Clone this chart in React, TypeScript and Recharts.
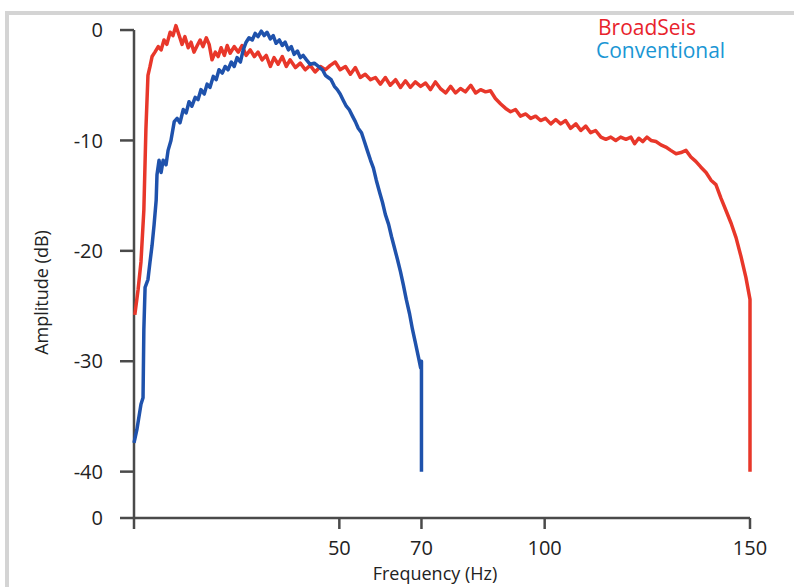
import { LineChart, Line, XAxis, YAxis, Legend, ReferenceLine, Label } from 'recharts';

// frequency (Hz) / amplitude (dB) pairs
const BROADSEIS_FREQ = [
  0.2, 1.0, 1.7, 2.4, 2.9, 3.4, 3.9, 4.4, 5.1, 5.9, 6.6, 7.3, 8.0, 8.8, 9.5, 10.2, 11.0, 11.7, 12.4, 13.2,
  13.9, 14.6, 15.4, 16.1, 16.8, 17.6, 18.3, 19.0, 19.8, 20.5, 21.2, 22.0, 22.7, 23.4, 24.4, 25.4, 26.3, 27.3, 28.3, 29.3,
  30.2, 31.2, 32.2, 33.2, 34.1, 35.1, 36.1, 37.1, 38.0, 39.3, 40.5, 41.7, 42.9, 44.1, 45.4, 46.6, 47.8, 49.0, 50.2, 51.5,
  52.7, 53.9, 55.1, 56.3, 57.6, 58.8, 60.0, 61.2, 62.4, 63.7, 64.9, 66.1, 67.3, 68.5, 69.8, 71.0, 72.2, 73.4, 74.6, 75.9,
  77.1, 78.3, 79.5, 80.7, 82.0, 83.2, 84.4, 85.6, 86.8, 88.0, 89.3, 90.5, 91.7, 92.9, 94.1, 95.4, 96.6, 97.8, 99.0, 100.2,
  101.5, 102.7, 103.9, 105.1, 106.3, 107.6, 108.8, 110.0, 111.2, 112.4, 113.7, 114.9, 116.1, 117.3, 118.5, 119.8, 121.0, 121.9, 122.9, 123.9,
  124.9, 125.9, 127.1, 128.3, 129.5, 130.7, 132.0, 133.2, 134.4, 135.6, 136.8, 138.0, 139.3, 140.5, 141.7, 142.9, 144.1, 145.4, 146.6, 147.8,
  149.0, 150, 150,
];
const BROADSEIS_DB = [
  -25.8, -23.5, -21.0, -16.3, -9.0, -4.1, -3.3, -2.4, -2.0, -1.5, -1.8, -0.9, -1.3, -0.2, -0.5, 0.4, -0.5, -1.3, -0.6, -1.6,
  -1.1, -2.0, -1.4, -0.9, -1.5, -0.7, -1.3, -2.7, -2.0, -2.4, -1.6, -2.3, -1.4, -2.1, -1.5, -2.0, -1.4, -2.3, -1.8, -2.4,
  -2.0, -2.7, -2.3, -3.3, -2.5, -3.1, -2.4, -3.3, -2.7, -3.4, -3.0, -3.6, -3.2, -3.8, -3.3, -3.6, -3.2, -2.9, -3.6, -3.3,
  -4.0, -3.4, -4.3, -4.0, -4.5, -4.3, -4.9, -4.3, -5.0, -4.5, -5.2, -4.6, -5.2, -4.7, -5.1, -4.8, -5.4, -4.7, -5.3, -5.7,
  -5.1, -5.7, -5.3, -5.6, -5.0, -5.7, -5.4, -5.6, -5.5, -6.2, -6.7, -7.1, -7.4, -7.2, -7.8, -7.6, -8.0, -7.8, -8.2, -8.0,
  -8.5, -8.1, -8.5, -8.2, -8.9, -8.5, -9.1, -8.7, -9.3, -9.1, -9.7, -9.9, -9.7, -10.0, -9.7, -9.9, -9.7, -10.3, -9.8, -10.1,
  -9.7, -10.0, -10.1, -10.4, -10.6, -10.9, -11.2, -11.1, -10.9, -11.5, -11.9, -12.4, -12.9, -13.6, -14.0, -15.2, -16.3, -17.5, -18.8, -20.5,
  -22.4, -24.4, -40,
];

const CONVENTIONAL_FREQ = [
  0, 0.7, 1.7, 2.2, 2.4, 2.7, 3.4, 3.9, 4.4, 4.9, 5.4, 5.6, 6.1, 6.6, 7.1, 7.8, 8.3, 9.0, 9.8, 10.5,
  11.2, 12.0, 12.7, 13.4, 14.1, 14.9, 15.6, 16.3, 17.1, 17.8, 18.5, 19.3, 20.0, 20.7, 21.5, 22.2, 22.9, 23.7, 24.4, 25.1,
  25.9, 26.6, 27.3, 28.0, 28.8, 29.5, 30.2, 31.0, 31.7, 32.4, 33.2, 33.9, 34.6, 35.4, 36.1, 36.8, 37.6, 38.3, 39.0, 39.8,
  40.5, 41.2, 42.0, 42.9, 43.9, 44.9, 45.9, 46.6, 47.3, 48.0, 48.8, 49.5, 50.2, 51.0, 51.7, 52.4, 53.2, 53.9, 54.6, 55.4,
  56.1, 56.8, 57.6, 58.3, 59.0, 59.8, 60.5, 61.2, 62.0, 62.7, 63.4, 64.1, 64.9, 65.6, 66.3, 67.1, 67.8, 68.5, 69.3, 69.8,
  70, 70,
];
const CONVENTIONAL_DB = [
  -37.4, -36.2, -33.9, -33.3, -27.1, -23.3, -22.6, -21.0, -19.5, -17.6, -15.4, -13.1, -11.8, -12.9, -11.8, -12.2, -10.9, -10.0, -8.3, -8.0,
  -8.4, -7.2, -7.5, -6.5, -6.9, -6.1, -6.3, -5.4, -5.8, -4.9, -5.2, -4.2, -4.5, -3.6, -3.9, -3.3, -3.6, -2.9, -3.3, -2.5,
  -2.9, -1.8, -1.1, -0.7, -0.9, -0.3, -0.6, -0.1, -0.5, -0.2, -0.8, -0.5, -1.2, -0.9, -1.4, -1.1, -1.8, -1.5, -2.2, -1.9,
  -2.5, -2.3, -2.7, -3.1, -3.0, -3.3, -3.6, -4.1, -4.3, -4.5, -5.1, -5.4, -5.8, -6.4, -6.9, -7.2, -7.8, -8.3, -8.9, -9.3,
  -10.1, -10.9, -11.8, -12.5, -13.6, -14.7, -15.6, -16.7, -17.6, -18.7, -19.7, -20.7, -21.9, -23.1, -24.4, -25.7, -27.1, -28.3, -29.7, -30.6,
  -30.0, -40,
];

const X_TICKS = [0, 50, 70, 100, 150];
const Y_BOTTOM = -44.2;
const Y_TICKS = [Y_BOTTOM, -40, -30, -20, -10, 0];

const broadseis = BROADSEIS_FREQ.map((f, i) => ({ f, db: BROADSEIS_DB[i] }));
const conventional = CONVENTIONAL_FREQ.map((f, i) => ({ f, db: CONVENTIONAL_DB[i] }));

const FONT = '"Open Sans", sans-serif';
const AXIS = '#4a4a4a';

function LegendText() {
  return (
    <div style={{ fontFamily: FONT, fontSize: 21, lineHeight: '23px' }}>
      <div style={{ color: '#e8232c', paddingLeft: 2 }}>BroadSeis</div>
      <div style={{ color: '#1a96d4' }}>Conventional</div>
    </div>
  );
}

export default function App() {
  return (
    <div style={{ position: 'absolute', left: 0, top: 0, width: 794, height: 587, background: '#fff' }}>
      <div
        style={{
          position: 'absolute',
          left: 5,
          top: 11,
          right: 0,
          bottom: 0,
          borderLeft: '4px solid #d4d4d4',
          borderTop: '4px solid #d4d4d4',
        }}
      />
      <div style={{ position: 'absolute', left: 0, top: 0 }}>
        <LineChart width={794} height={587} margin={{ top: 19, right: 44, bottom: 5, left: 0 }}>
          <XAxis
            type="number"
            dataKey="f"
            domain={[0, 150]}
            ticks={X_TICKS}
            interval={0}
            tickFormatter={(v) => (v === 0 ? '' : String(v))}
            height={64}
            stroke={AXIS}
            strokeWidth={2.5}
            tickSize={11}
            tickMargin={12}
            tick={{ fill: '#222', fontSize: 20, fontFamily: FONT }}
          >
            <Label
              value="Frequency (Hz)"
              position="insideBottom"
              offset={2}
              dx={-7}
              style={{ fill: '#222', fontSize: 18, fontFamily: FONT }}
            />
          </XAxis>
          <YAxis
            type="number"
            dataKey="db"
            domain={[Y_BOTTOM, 1]}
            ticks={Y_TICKS}
            interval={0}
            tickFormatter={(v) => (v < -42 ? '0' : String(v))}
            width={134}
            axisLine={false}
            stroke={AXIS}
            strokeWidth={2.5}
            tickSize={14}
            tickMargin={17}
            tick={{ fill: '#222', fontSize: 20, fontFamily: FONT }}
          >
            <Label
              value="Amplitude (dB)"
              position="center"
              angle={-90}
              dx={-25}
              dy={24}
              style={{ fill: '#222', fontSize: 18, fontFamily: FONT }}
            />
          </YAxis>
          <ReferenceLine
            segment={[{ x: 0, y: 0 }, { x: 0, y: Y_BOTTOM }]}
            stroke={AXIS}
            strokeWidth={2.5}
          />
          <Legend
            layout="vertical"
            align="center"
            verticalAlign="middle"
            content={() => <LegendText />}
            wrapperStyle={{ position: 'absolute', left: 596, top: 16, width: 190 }}
          />
          <Line
            data={broadseis}
            dataKey="db"
            name="BroadSeis"
            stroke="#e8372a"
            strokeWidth={3.5}
            dot={false}
            strokeLinejoin="round"
            isAnimationActive={false}
          />
          <Line
            data={conventional}
            dataKey="db"
            name="Conventional"
            stroke="#1f52ac"
            strokeWidth={3.5}
            dot={false}
            strokeLinejoin="round"
            isAnimationActive={false}
          />
        </LineChart>
      </div>
    </div>
  );
}
